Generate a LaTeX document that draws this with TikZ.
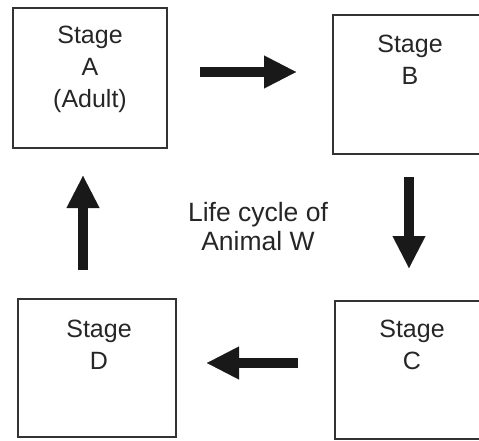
\documentclass[tikz,border=0pt]{standalone}
\usepackage{fontspec}
\setmainfont{Liberation Sans}
\usetikzlibrary{arrows.meta}
\begin{document}
\begin{tikzpicture}[x=1pt,y=-1pt,
  stagebox/.style={draw=black!80, line width=1.8pt, inner sep=0pt, outer sep=0pt},
  lbl/.style={align=center, text=black!85, font=\fontsize{25}{32}\selectfont, inner sep=0pt},
  bigarrow/.style={line width=10pt, draw=black!90, -{Triangle[length=32pt,width=33pt,line width=0.01pt]}}]
\useasboundingbox (0,0) rectangle (479,441);
% boxes
\node[stagebox, minimum width=154pt, minimum height=140pt] (A) at (90,78) {};
\node[stagebox, minimum width=154pt, minimum height=139pt] (B) at (410,84.5) {};
\node[stagebox, minimum width=154pt, minimum height=138pt] (C) at (412,370) {};
\node[stagebox, minimum width=158pt, minimum height=138pt] (D) at (97,368) {};
% texts
\node[lbl] (At) at (90,69) {Stage\\A\\(Adult)};
\node[lbl] (Bt) at (410,60) {Stage\\B};
\node[lbl] (Ct) at (412,345) {Stage\\C};
\node[lbl] (Dt) at (99,345) {Stage\\D};
\node[lbl, font=\fontsize{26.5}{29}\selectfont] (W) at (258,227) {Life cycle of\\Animal W};
% arrow ends
\coordinate (ab1) at (200,72);
\coordinate (ab2) at (296,72);
\coordinate (bc1) at (409,177);
\coordinate (bc2) at (409,268);
\coordinate (cd1) at (298,363);
\coordinate (cd2) at (207,363);
\coordinate (da1) at (83,270);
\coordinate (da2) at (83,176);
\draw[bigarrow] (ab1) -- (ab2);
\draw[bigarrow] (bc1) -- (bc2);
\draw[bigarrow] (cd1) -- (cd2);
\draw[bigarrow] (da1) -- (da2);
\end{tikzpicture}
\end{document}
